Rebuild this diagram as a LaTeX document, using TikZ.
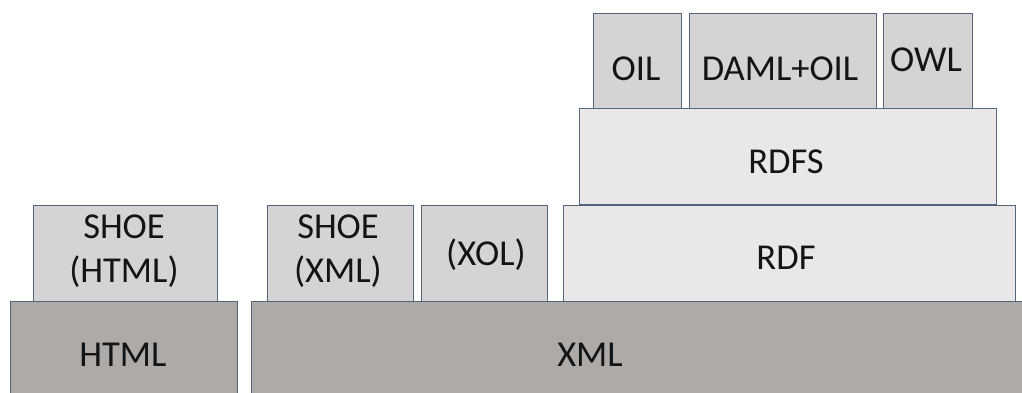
\documentclass[tikz,border=0pt]{standalone}
\usepackage{fontspec}
\setmainfont{Carlito}
\definecolor{bordc}{HTML}{51667C}
\definecolor{darkf}{HTML}{ADAAA8}
\definecolor{midf}{HTML}{D5D3D4}
\definecolor{lightf}{HTML}{E9E7E8}
\definecolor{txt}{HTML}{141414}
\tikzset{
  layer/.style={draw=bordc, line width=1.2pt, rectangle, inner sep=0pt, anchor=north west},
  darkbox/.style={layer, fill=darkf},
  midbox/.style={layer, fill=midf},
  lightbox/.style={layer, fill=lightf},
  lbl/.style={text=txt, font=\fontsize{36.5}{44}\selectfont, align=center, inner sep=0pt}
}
\begin{document}
\begin{tikzpicture}[x=1pt,y=-1pt]
\useasboundingbox (0,0) rectangle (1022,392);
\fill[white] (0,0) rectangle (1022,392);
% bottom layer
\node[darkbox, minimum width=227pt, minimum height=110pt] (html) at (10,301) {};
\node[darkbox, minimum width=790pt, minimum height=110pt] (xml) at (251,301) {};
% second layer
\node[midbox, minimum width=184pt, minimum height=96pt] (shoeh) at (33,205) {};
\node[midbox, minimum width=146pt, minimum height=96pt] (shoex) at (267,205) {};
\node[midbox, minimum width=126pt, minimum height=96pt] (xol) at (421,205) {};
\node[lightbox, minimum width=452pt, minimum height=96pt] (rdf) at (563,205) {};
% third layer
\node[lightbox, minimum width=417pt, minimum height=96pt] (rdfs) at (579,108) {};
% top layer
\node[midbox, minimum width=88pt, minimum height=95pt] (oil) at (593,13) {};
\node[midbox, minimum width=187pt, minimum height=95pt] (daml) at (689,13) {};
\node[midbox, minimum width=89pt, minimum height=95pt] (owl) at (883,13) {};
% labels
\node[lbl] (thtml) at (123,355) {HTML};
\node[lbl] (txml) at (590,355) {XML};
\node[lbl] (tshoeh) at (124,251) {SHOE\\(HTML)};
\node[lbl] (tshoex) at (338,251) {SHOE\\(XML)};
\node[lbl] (txol) at (486,255) {(XOL)};
\node[lbl] (trdf) at (786,258) {RDF};
\node[lbl] (trdfs) at (786,162) {RDFS};
\node[lbl] (toil) at (636,69) {OIL};
\node[lbl] (tdaml) at (780,69) {DAML+OIL};
\node[lbl] (towl) at (926,60) {OWL};
\end{tikzpicture}
\end{document}
